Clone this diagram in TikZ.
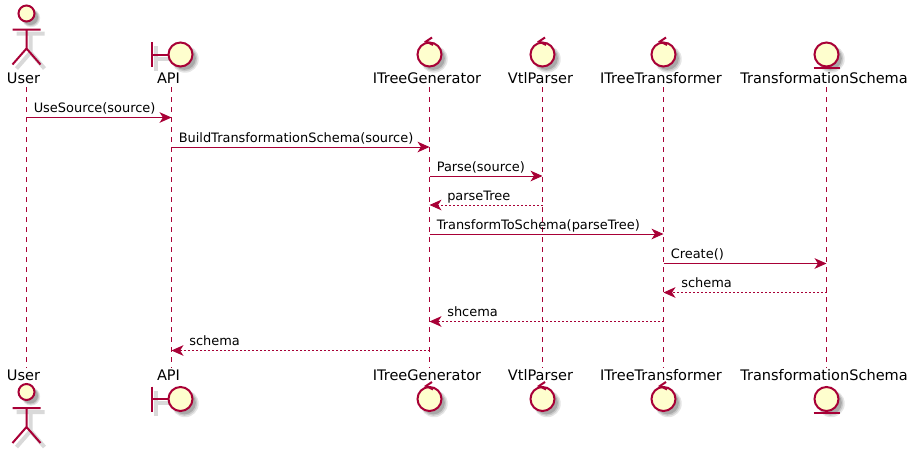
\documentclass[tikz,border=0pt]{standalone}
\usepackage{fontspec}
\setmainfont{DejaVu Sans}
\usetikzlibrary{arrows.meta,shadows}
\definecolor{umlred}{HTML}{A80036}
\definecolor{umlfill}{HTML}{FEFECE}
\tikzstyle{softshadow} = [drop shadow={shadow xshift=3pt,shadow yshift=-3pt,shadow scale=1.14,fill=black,opacity=.10},
  drop shadow={shadow xshift=3pt,shadow yshift=-3pt,shadow scale=1.05,fill=black,opacity=.12},
  drop shadow={shadow xshift=3pt,shadow yshift=-3pt,shadow scale=.96,fill=black,opacity=.16}]
\tikzstyle{ball} = [circle, softshadow, draw=umlred, fill=umlfill, line width=1.5pt, inner sep=0pt, minimum size=18pt]
\tikzstyle{head} = [ball, minimum size=12pt]
\tikzstyle{glyph} = [draw=umlred, line width=1.5pt]
\tikzstyle{ghost} = [draw=black!15, line width=3pt]
\tikzstyle{who} = [anchor=base, inner sep=0pt, text height=9pt, text depth=3pt, font=\fontsize{10.9pt}{12pt}\selectfont]
\tikzstyle{say} = [anchor=base west, inner sep=0pt, font=\fontsize{9.7pt}{12pt}\selectfont]
\tikzstyle{life} = [draw=umlred, line width=.75pt, dash pattern=on 3.75pt off 3.75pt]
\tikzstyle{call} = [draw=umlred, line width=.75pt, -{Stealth[length=9pt,width=8pt,inset=2.6pt]}]
\tikzstyle{back} = [call, dash pattern=on 1.5pt off 1.5pt]
\tikzset{
  actorpic/.pic={
    \draw [ghost] (4,20) -- (4,39) (-10,20) -- (18,20) (4,39) -- (-10,55) (4,39) -- (18,55);
    \draw [glyph] (0,16) -- (0,35) (-14,16) -- (14,16) (0,35) -- (-14,51) (0,35) -- (14,51);
    \node (-head) [head] at (0,0) {};
  },
  boundarypic/.pic={
    \draw [ghost] (-25,-8.5) -- (-25,16.5) (-25,4) -- (-8,4);
    \draw [glyph] (-29,-12.5) -- (-29,12.5) (-29,0) -- (-12,0);
    \node (-ball) [ball] at (0,0) {};
  },
  controlpic/.pic={
    \node (-ball) [ball] at (0,0) {};
    \draw [glyph] (2.5,-17) -- (-3.5,-13) -- (3.5,-9.5);
  },
  entitypic/.pic={
    \node (-ball) [ball] at (0,0) {};
    \draw [glyph] (-13,13.5) -- (13,13.5);
  }
}
\begin{document}
\begin{tikzpicture}[x=.75pt,y=-.75pt]
\useasboundingbox (0,0) rectangle (918,454);
% lifeline positions
\coordinate (user) at (26.5,0);
\coordinate (api) at (171.5,0);
\coordinate (gen) at (429.5,0);
\coordinate (vtl) at (542.5,0);
\coordinate (trans) at (663.5,0);
\coordinate (schema) at (826.5,0);
% participant names
\foreach \nm/\x/\txt in {user/23.5/User, api/168.5/API, gen/427/ITreeGenerator, vtl/540.5/VtlParser, trans/661/ITreeTransformer, schema/824/TransformationSchema} {
  \node (\nm Top) [who] at (\x,83) {\txt};
  \node (\nm Bot) [who] at (\x,380) {\txt};
  \draw [life] (\nm |- \nm Top.south) -- (\nm |- \nm Bot.north);
}
% glyphs, top and bottom row
\pic (userA) at (26.5,13.5) {actorpic};
\pic (userB) at (26.5,392) {actorpic};
\pic (apiA) at (180.5,54.5) {boundarypic};
\pic (apiB) at (180.5,399) {boundarypic};
\pic (genA) at (429.5,54.5) {controlpic};
\pic (genB) at (429.5,399) {controlpic};
\pic (vtlA) at (542.5,54.5) {controlpic};
\pic (vtlB) at (542.5,399) {controlpic};
\pic (transA) at (663.5,54.5) {controlpic};
\pic (transB) at (663.5,399) {controlpic};
\pic (schemaA) at (826.5,54.5) {entitypic};
\pic (schemaB) at (826.5,399) {entitypic};
% message rows
\foreach \n/\y in {1/117.5,2/147,3/176,4/205,5/234,6/263.5,7/292.5,8/321.5,9/350.5} {
  \coordinate (m\n) at (0,\y);
}
\draw [call] (user |- m1) -- (api |- m1);
\draw [call] (api |- m2) -- (gen |- m2);
\draw [call] (gen |- m3) -- (vtl |- m3);
\draw [back] (vtl |- m4) -- (gen |- m4);
\draw [call] (gen |- m5) -- (trans |- m5);
\draw [call] (trans |- m6) -- (schema |- m6);
\draw [back] (schema |- m7) -- (trans |- m7);
\draw [back] (trans |- m8) -- (gen |- m8);
\draw [back] (gen |- m9) -- (api |- m9);
% message texts
\node (say1) [say] at (33.5,112.5) {UseSource(source)};
\node (say2) [say] at (178.5,142) {BuildTransformationSchema(source)};
\node (say3) [say] at (436.5,171) {Parse(source)};
\node (say4) [say] at (447,200) {parseTree};
\node (say5) [say] at (436.5,229) {TransformToSchema(parseTree)};
\node (say6) [say] at (670.5,258.5) {Create()};
\node (say7) [say] at (681,287.5) {schema};
\node (say8) [say] at (447,316.5) {shcema};
\node (say9) [say] at (189,345.5) {schema};
\end{tikzpicture}
\end{document}
